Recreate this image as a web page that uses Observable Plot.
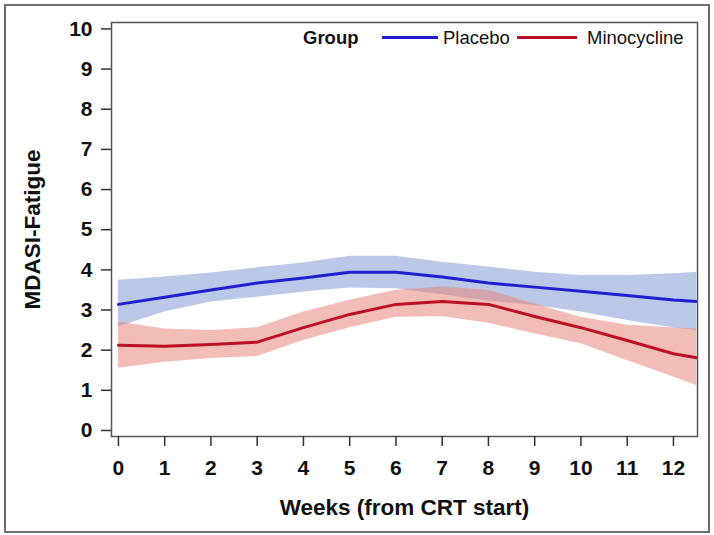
<!DOCTYPE html>
<html>
<head>
<meta charset="utf-8">
<script src="https://cdn.jsdelivr.net/npm/d3@7"></script>
<script src="https://cdn.jsdelivr.net/npm/@observablehq/plot@0.6"></script>
<style>
  body { margin: 0; background: #fff; }
  #wrap { position: relative; width: 714px; height: 535px; font-family: "Liberation Sans", Arial, sans-serif; }
  #wrap svg { position: absolute; left: 0; top: 0; }
  #border { position: absolute; left: 4px; top: 4px; width: 702px; height: 525px; border: 2px solid #6e6e6e; pointer-events: none; }
  .leg { position: absolute; font-size: 18.5px; color: #111; line-height: 1; white-space: nowrap; }
  .legline { position: absolute; height: 3px; }
</style>
</head>
<body>
<div id="wrap"><div id="border"></div></div>
<script>
// ---- data ----
const weeks = [0, 1, 2, 3, 4, 5, 6, 7, 8, 9, 10, 11, 12, 12.5];
const placeboMean  = [3.14, 3.32, 3.50, 3.67, 3.80, 3.94, 3.94, 3.82, 3.67, 3.57, 3.47, 3.36, 3.25, 3.21];
const placeboUpper = [3.74, 3.82, 3.92, 4.05, 4.17, 4.34, 4.34, 4.19, 4.07, 3.94, 3.86, 3.86, 3.90, 3.94];
const placeboLower = [2.58, 2.95, 3.20, 3.32, 3.45, 3.55, 3.53, 3.38, 3.22, 3.11, 2.95, 2.74, 2.56, 2.49];
const minoMean  = [2.12, 2.10, 2.14, 2.20, 2.56, 2.89, 3.14, 3.21, 3.14, 2.84, 2.56, 2.24, 1.91, 1.81];
const minoUpper = [2.70, 2.53, 2.49, 2.56, 2.95, 3.24, 3.49, 3.57, 3.49, 3.15, 2.82, 2.62, 2.56, 2.52];
const minoLower = [1.55, 1.70, 1.79, 1.84, 2.24, 2.56, 2.82, 2.84, 2.67, 2.41, 2.16, 1.74, 1.33, 1.12];
const groups = ["Placebo", "Minocycline"];
const xTicks = [0, 1, 2, 3, 4, 5, 6, 7, 8, 9, 10, 11, 12];
const yTicks = [0, 1, 2, 3, 4, 5, 6, 7, 8, 9, 10];
const xLabel = "Weeks (from CRT start)";
const yLabel = "MDASI-Fatigue";
const legendTitle = "Group";

const lineColors = {Placebo: "#2020d0", Minocycline: "#bb1025"};
const bandColors = {Placebo: "#8ea3d9", Minocycline: "#e8877a"};

const build = (g, mean, lo, hi) => weeks.map((w, i) => ({group: g, week: w, mean: mean[i], lo: lo[i], hi: hi[i]}));
const placebo = build("Placebo", placeboMean, placeboLower, placeboUpper);
const mino = build("Minocycline", minoMean, minoLower, minoUpper);

const chart = Plot.plot({
  width: 714,
  height: 535,
  marginLeft: 111,
  marginRight: 17,
  marginTop: 22,
  marginBottom: 99,
  style: {fontFamily: "'Liberation Sans', Arial, sans-serif", fontWeight: "bold", background: "transparent", color: "#111"},
  x: {domain: [-0.15, 12.52]},
  y: {domain: [-0.15, 10.16]},
  marks: [
    Plot.areaY(placebo, {x: "week", y1: "lo", y2: "hi", fill: bandColors.Placebo, fillOpacity: 0.6}),
    Plot.areaY(mino, {x: "week", y1: "lo", y2: "hi", fill: bandColors.Minocycline, fillOpacity: 0.55}),
    Plot.line(placebo, {x: "week", y: "mean", stroke: lineColors.Placebo, strokeWidth: 3}),
    Plot.line(mino, {x: "week", y: "mean", stroke: lineColors.Minocycline, strokeWidth: 3}),
    Plot.frame({stroke: "#555", strokeWidth: 1.5}),
    Plot.axisY({ticks: yTicks, tickSize: 10, tickPadding: 9, fontSize: 21, label: null, stroke: "#333", strokeWidth: 1.5}),
    Plot.axisX({ticks: xTicks, tickSize: 10, tickPadding: 14, fontSize: 21, label: null, stroke: "#333", strokeWidth: 1.5}),
    Plot.text([yLabel], {frameAnchor: "left", dx: -79, rotate: -90, textAnchor: "middle", lineAnchor: "middle", fontSize: 22.5, fontWeight: "bold"}),
    Plot.text([xLabel], {frameAnchor: "bottom", dy: 71, textAnchor: "middle", lineAnchor: "middle", fontSize: 22.5, fontWeight: "bold"})
  ]
});
const wrap = document.getElementById("wrap");
wrap.insertBefore(chart, wrap.firstChild);

// legend overlay
function addText(txt, left, top, bold) {
  const d = document.createElement("div");
  d.className = "leg";
  d.textContent = txt;
  d.style.left = left + "px";
  d.style.top = top + "px";
  if (bold) d.style.fontWeight = "bold";
  wrap.appendChild(d);
}
function addLine(color, left, top, w) {
  const d = document.createElement("div");
  d.className = "legline";
  d.style.background = color;
  d.style.left = left + "px";
  d.style.top = top + "px";
  d.style.width = w + "px";
  wrap.appendChild(d);
}
addText(legendTitle, 303, 29, true);
addLine(lineColors[groups[0]], 382, 36, 56);
addText(groups[0], 443, 29, false);
addLine(lineColors[groups[1]], 517, 36, 60);
addText(groups[1], 587, 29, false);
</script>
</body>
</html>
